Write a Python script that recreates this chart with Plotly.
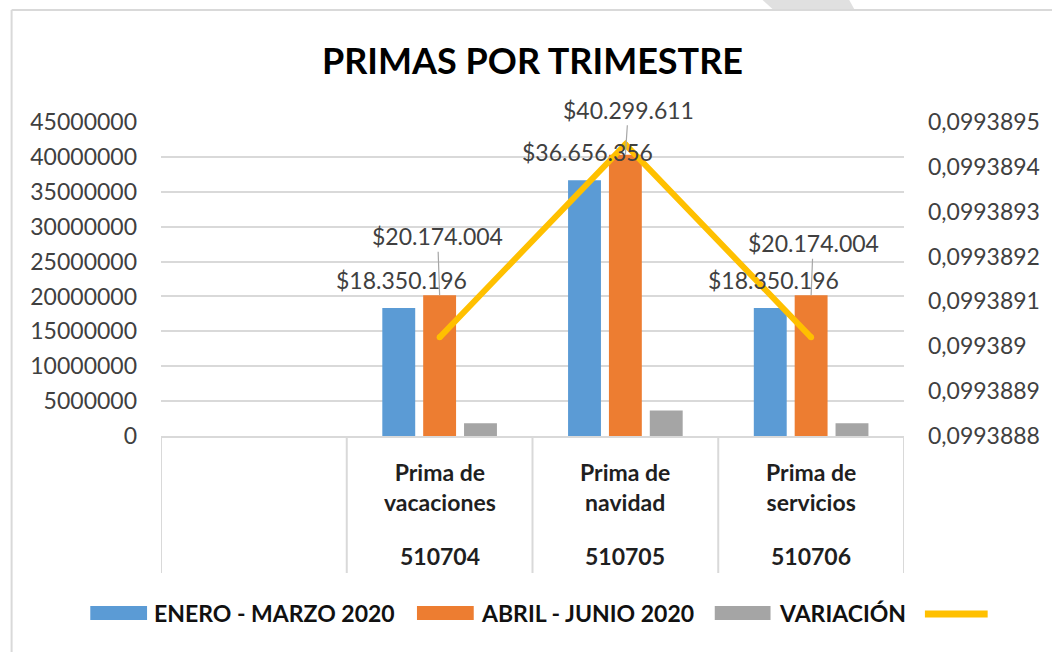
import plotly.graph_objects as go

# ---------------- data ----------------
categories = ["", "Prima de vacaciones", "Prima de navidad", "Prima de servicios"]
codes = ["", "510704", "510705", "510706"]
enero_marzo = [None, 18350196, 36656356, 18350196]
abril_junio = [None, 20174004, 40299611, 20174004]
variacion = [None, 1823808, 3643255, 1823808]
variacion_ratio = [None, 0.09938902, 0.09938945, 0.09938902]

left_ticks = [0, 5000000, 10000000, 15000000, 20000000, 25000000,
              30000000, 35000000, 40000000, 45000000]
right_ticks = [0.0993888, 0.0993889, 0.0993890, 0.0993891,
               0.0993892, 0.0993893, 0.0993894, 0.0993895]
right_tick_labels = ["0,0993888", "0,0993889", "0,099389", "0,0993891",
                     "0,0993892", "0,0993893", "0,0993894", "0,0993895"]

series_names = ["ENERO - MARZO 2020", "ABRIL - JUNIO 2020", "VARIACIÓN"]

# ---------------- styles ----------------
BLUE, ORANGE, GRAY, YELLOW = "#5B9BD5", "#ED7D31", "#A5A5A5", "#FFC000"
GRID = "#D9D9D9"
TXT = "#404040"
FONT = "Lato"

# plot area in pixels
L, R, T, B = 161, 907, 122, 436
W_FIG, H_FIG = 1052, 652


def px_x(p):
    return (p - L) / (R - L)


def px_y(p):
    return (B - p) / (B - T)


x_idx = list(range(len(categories)))

fig = go.Figure()
fig.add_trace(go.Bar(x=x_idx, y=enero_marzo, name=series_names[0],
                     marker=dict(color=BLUE, line=dict(width=0))))
fig.add_trace(go.Bar(x=x_idx, y=abril_junio, name=series_names[1],
                     marker=dict(color=ORANGE, line=dict(width=0))))
fig.add_trace(go.Bar(x=x_idx, y=variacion, name=series_names[2],
                     marker=dict(color=GRAY, line=dict(width=0))))
fig.add_trace(go.Scatter(x=x_idx, y=variacion_ratio, yaxis="y2",
                         mode="lines+markers",
                         line=dict(color=YELLOW, width=6),
                         marker=dict(color=YELLOW, size=6),
                         name="", showlegend=False))

annotations = []
shapes = []

# data labels
slot = (1 - 0.34) / 3
blue_dx = [0, 3, 3, 3]
orange_ax = [0, -2, 3, 2]
orange_ay = [0, -59, -45, -52]


def money(v):
    return "$" + f"{v:,}".replace(",", ".")


for i, v in enumerate(enero_marzo):
    if v is None:
        continue
    annotations.append(dict(x=i - slot, y=v, xref="x", yref="y",
                            text=money(v), showarrow=False,
                            xshift=blue_dx[i], yshift=28,
                            font=dict(family=FONT, size=23, color=TXT)))
for i, v in enumerate(abril_junio):
    if v is None:
        continue
    annotations.append(dict(x=i, y=v, xref="x", yref="y",
                            text=money(v), showarrow=True,
                            arrowhead=0, arrowwidth=1.2, arrowcolor="#A6A6A6",
                            ax=orange_ax[i], ay=orange_ay[i],
                            font=dict(family=FONT, size=23, color=TXT)))

# category labels (two level)
for i, name in enumerate(categories):
    if not name:
        continue
    annotations.append(dict(x=i, y=0, xref="x", yref="paper",
                            text="<b>" + name.replace("de ", "de<br>") + "</b>",
                            showarrow=False, yanchor="middle", yshift=-51,
                            font=dict(family=FONT, size=23, color="#1F1F1F")))
    annotations.append(dict(x=i, y=0, xref="x", yref="paper",
                            text="<b>" + codes[i] + "</b>",
                            showarrow=False, yanchor="middle", yshift=-120,
                            font=dict(family=FONT, size=23, color="#1F1F1F")))

# category separators
for k in range(len(categories) + 1):
    shapes.append(dict(type="line", xref="x", yref="paper",
                       x0=k - 0.5, x1=k - 0.5, y0=0, y1=px_y(573),
                       line=dict(color=GRID, width=2)))

# custom legend
legend_items = [
    (BLUE, 90, 147, 152, series_names[0]),
    (ORANGE, 418, 475, 480, series_names[1]),
    (GRAY, 717, 773, 779, series_names[2]),
]
for color, x0, x1, xt, label in legend_items:
    shapes.append(dict(type="rect", xref="paper", yref="paper",
                       x0=px_x(x0), x1=px_x(x1), y0=px_y(620), y1=px_y(606),
                       fillcolor=color, line=dict(width=0)))
    annotations.append(dict(x=px_x(xt), y=px_y(613), xref="paper", yref="paper",
                            text="<b>" + label + "</b>", showarrow=False,
                            xanchor="left", yanchor="middle",
                            font=dict(family=FONT, size=23, color="#111111")))
shapes.append(dict(type="line", xref="paper", yref="paper",
                   x0=px_x(928), x1=px_x(991), y0=px_y(614), y1=px_y(614),
                   line=dict(color=YELLOW, width=7)))

# frame and background decoration
shapes.append(dict(type="path", xref="paper", yref="paper",
                   path=f"M {px_x(765)},{px_y(0)} L {px_x(852)},{px_y(0)} "
                        f"L {px_x(857)},{px_y(9)} L {px_x(775)},{px_y(9)} Z",
                   fillcolor="#E0E0E0", line=dict(width=0), layer="below"))
shapes.append(dict(type="line", xref="paper", yref="paper",
                   x0=px_x(11), x1=px_x(1060), y0=px_y(10), y1=px_y(10),
                   line=dict(color=GRID, width=2)))
shapes.append(dict(type="line", xref="paper", yref="paper",
                   x0=px_x(11), x1=px_x(11), y0=px_y(10), y1=px_y(660),
                   line=dict(color=GRID, width=2)))

fig.update_layout(
    width=W_FIG, height=H_FIG,
    margin=dict(l=L, r=W_FIG - R, t=T, b=H_FIG - B, pad=0),
    paper_bgcolor="white", plot_bgcolor="white",
    font=dict(family=FONT, color=TXT),
    separators=",.",
    title=dict(text="<b>PRIMAS POR TRIMESTRE</b>", x=0.5, xref="paper",
               xanchor="center", y=1 - 61 / H_FIG, yref="container",
               yanchor="middle",
               font=dict(family=FONT, size=36, color="#000000")),
    barmode="group", bargap=0.34, bargroupgap=0.195,
    showlegend=False,
    hovermode=False,
    xaxis=dict(range=[-0.5, len(categories) - 0.5], showticklabels=False,
               showgrid=False, zeroline=False, showline=True,
               linecolor=GRID, linewidth=2, fixedrange=True),
    yaxis=dict(range=[0, 45000000], tickvals=left_ticks, tickformat="d",
               showgrid=True, gridcolor=GRID, gridwidth=2,
               zeroline=False, showline=False, ticks="",
               ticklabelstandoff=23,
               tickfont=dict(family=FONT, size=23, color=TXT)),
    yaxis2=dict(overlaying="y", side="right",
                range=[right_ticks[0] - 1e-12, right_ticks[-1] + 1e-12],
                tickvals=right_ticks, ticktext=right_tick_labels,
                showgrid=False, zeroline=False, showline=False, ticks="",
                ticklabelstandoff=23,
                tickfont=dict(family=FONT, size=23, color=TXT)),
    annotations=annotations,
    shapes=shapes,
)

fig.write_html("out.html",
               config={"displayModeBar": False},
               post_script="document.body.style.margin='0px';"
                           "document.body.style.overflow='hidden';")
